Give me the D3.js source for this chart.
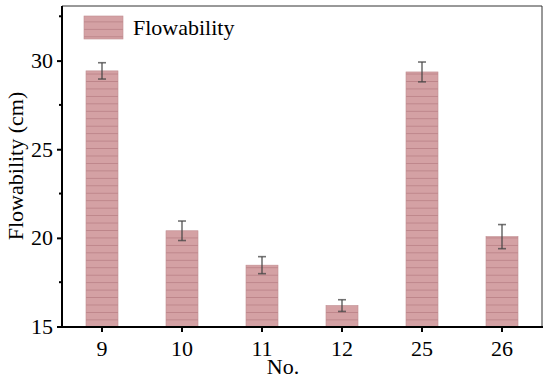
<!DOCTYPE html>
<html><head><meta charset="utf-8">
<script src="https://cdn.jsdelivr.net/npm/d3@7/dist/d3.min.js"></script>
<style>body{margin:0;background:#fff}svg{display:block}</style>
</head><body><div id="chart"></div>
<script>
const categories = ["9","10","11","12","25","26"];
const values = [29.42, 20.4, 18.46, 16.18, 29.36, 20.07];
const errors = [0.46, 0.55, 0.48, 0.33, 0.56, 0.68];
const yTicks = [15, 20, 25, 30];
const seriesName = "Flowability";

const W = 550, H = 381;
const m = {left: 62, right: 8, top: 6, bottom: 55};
const svg = d3.select("#chart").append("svg").attr("width", W).attr("height", H);
const FONT = "Liberation Serif";
const FS = 22;

const defs = svg.append("defs");
const pat = defs.append("pattern").attr("id","stripe").attr("patternUnits","userSpaceOnUse")
  .attr("width", 10).attr("height", 7.45);
pat.append("rect").attr("width",10).attr("height",7.45).attr("fill","#d4a1a4");
pat.append("rect").attr("y",6.6).attr("width",10).attr("height",0.9).attr("fill","#bb8288");

const x = d3.scaleBand().domain(categories).range([m.left, W - m.right]).paddingInner(0.6).paddingOuter(0.3);
const y = d3.scaleLinear().domain([15, 33.08]).range([H - m.bottom + 0.5, m.top]);

// bars
svg.append("g").selectAll("rect").data(categories).join("rect")
  .attr("x", d => x(d)).attr("width", x.bandwidth())
  .attr("y", (d,i) => y(values[i])).attr("height", (d,i) => y(15) - y(values[i]))
  .attr("fill","url(#stripe)").attr("stroke","#c08c90").attr("stroke-width",0.6);

// error bars
const eg = svg.append("g").attr("stroke","#444").attr("stroke-opacity",0.75);
categories.forEach((c,i) => {
  const cx = x(c) + x.bandwidth()/2;
  const y1 = y(values[i] + errors[i]), y2 = y(values[i] - errors[i]);
  eg.append("line").attr("x1",cx).attr("x2",cx).attr("y1",y1).attr("y2",y2).attr("stroke-width",1.6);
  eg.append("line").attr("x1",cx-4).attr("x2",cx+4).attr("y1",y1).attr("y2",y1).attr("stroke-width",1.6);
  eg.append("line").attr("x1",cx-4).attr("x2",cx+4).attr("y1",y2).attr("y2",y2).attr("stroke-width",1.6);
});

// frame top/right
svg.append("path").attr("d",`M${m.left},${m.top}H${W-m.right}V${H-m.bottom}`)
  .attr("fill","none").attr("stroke","#333").attr("stroke-width",1);

// y axis
const yAxis = svg.append("g").attr("transform",`translate(${m.left},0)`)
  .call(d3.axisLeft(y).tickValues(yTicks).tickSize(5).tickPadding(4).tickFormat(d3.format("d")));
yAxis.attr("font-family", FONT).attr("font-size", FS);
yAxis.select(".domain").attr("stroke","#000").attr("stroke-width",2).attr("d",`M0,${m.top}V${H-m.bottom+1}`);
yAxis.selectAll(".tick line").attr("stroke","#000").attr("stroke-width",2);
yAxis.selectAll("text").attr("font-family", FONT).attr("font-size", FS).attr("fill","#000");
svg.append("g").selectAll("line").data([17.5,22.5,27.5,32.5]).join("line")
  .attr("x1",m.left-3).attr("x2",m.left).attr("y1",d=>y(d)).attr("y2",d=>y(d))
  .attr("stroke","#000").attr("stroke-width",2);

// x axis
const xAxis = svg.append("g").attr("transform",`translate(0,${H-m.bottom+1})`)
  .call(d3.axisBottom(x).tickSize(5).tickPadding(8));
xAxis.attr("font-family", FONT).attr("font-size", FS);
xAxis.select(".domain").attr("stroke","#000").attr("stroke-width",2).attr("d",`M${m.left-1},0H${W-m.right+1}`);
xAxis.selectAll(".tick line").attr("stroke","#000").attr("stroke-width",2);
xAxis.selectAll("text").attr("font-family", FONT).attr("font-size", FS).attr("fill","#000");

// titles
svg.append("text").attr("x", 283).attr("y", 374).attr("text-anchor","middle")
  .attr("font-family", FONT).attr("font-size", FS).text("No.");
svg.append("text").attr("transform",`translate(23,${(m.top + H - m.bottom)/2}) rotate(-90)`)
  .attr("text-anchor","middle").attr("font-family", FONT).attr("font-size", FS).text("Flowability (cm)");

// legend
const lg = svg.append("g");
lg.append("rect").attr("x",84).attr("y",16).attr("width",39).attr("height",23)
  .attr("fill","url(#stripe)").attr("stroke","#c08c90").attr("stroke-width",0.6);
lg.append("text").attr("x",133).attr("y",35).attr("font-family", FONT).attr("font-size", FS).text(seriesName);
</script></body></html>
